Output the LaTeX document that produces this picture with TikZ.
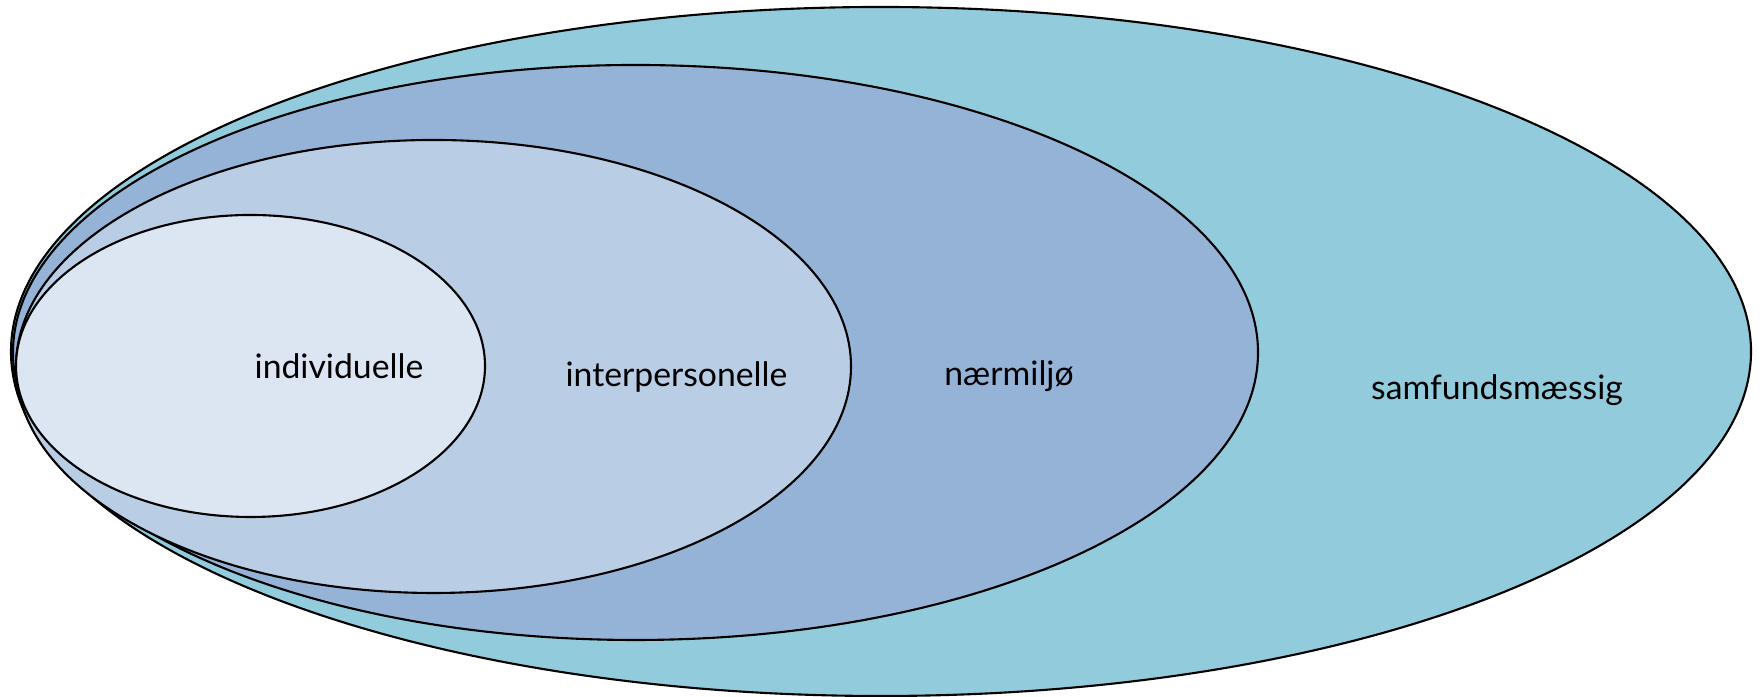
\documentclass[tikz,border=0pt]{standalone}
\usepackage{fontspec}
\setmainfont{Lato}
\usetikzlibrary{shapes.geometric}
\definecolor{samfundblue}{HTML}{92CCDC}
\definecolor{miljoblue}{HTML}{95B3D7}
\definecolor{interblue}{HTML}{B9CDE5}
\definecolor{indivblue}{HTML}{DCE6F2}
\tikzset{
  Ring/.style={ellipse,draw=black,line width=0.6pt,inner sep=0pt},
  Level/.style={anchor=base,font=\fontsize{9.6}{11}\selectfont}
}

\begin{document}
\begin{tikzpicture}
    \useasboundingbox (0,0) rectangle (17.62,6.97);

    \node[Ring,fill=samfundblue,minimum width=17.40cm,minimum height=6.89cm] (S) at (8.81,3.455) {};
    \node[Ring,fill=miljoblue,minimum width=12.45cm,minimum height=5.75cm] (N) at (6.355,3.445) {};
    \node[Ring,fill=interblue,minimum width=8.35cm,minimum height=4.53cm] (P) at (4.335,3.305) {};
    \node[Ring,fill=indivblue,minimum width=4.69cm,minimum height=3.02cm] (I) at (2.505,3.31) {};

    \node[Level] (LI) at (3.39,3.18) {individuelle};
    \node[Level] (LP) at (6.765,3.10) {interpersonelle};
    \node[Level] (LN) at (10.09,3.11) {nærmiljø};
    \node[Level] (LS) at (14.97,2.97) {samfundsmæssig};
\end{tikzpicture}
\end{document}
